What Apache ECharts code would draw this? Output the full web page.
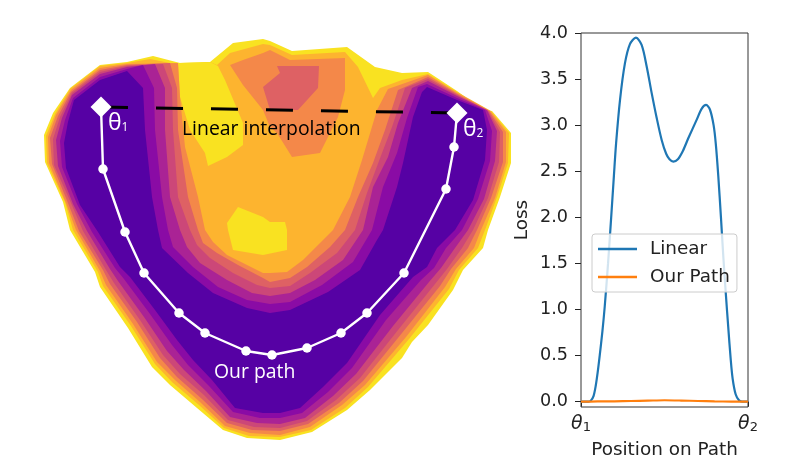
<!DOCTYPE html>
<html><head><meta charset="utf-8">
<style>html,body{margin:0;padding:0;background:#fff}#c{width:797px;height:476px}</style>
<script src="https://cdn.jsdelivr.net/npm/echarts@6/dist/echarts.min.js"></script>
</head><body><div id="c"></div>
<script>
// ---- loss-surface contour bands, in plane coordinates ----
const bandOutline=[[127,62],[100,65],[70,88],[53,113],[44,135],[45,162],[63,202],[70,230],[95,272],[100,287],[128,328],[152,367],[170,385],[197,408],[223,430],[247,438],[280,440],[312,432],[347,410],[370,390],[402,358],[412,342],[428,325],[453,290],[463,270],[483,248],[488,230],[500,197],[511,163],[511,133],[492,111],[483,110],[457,91],[428,72],[402,73],[375,67],[347,47],[292,51],[270,41],[263,39],[233,43],[210,62],[180,63],[153,56]];
const bandLightOrange=[[127,63],[100,66],[70,89],[55,114],[46,136],[47,163],[65,202],[73,230],[98,272],[103,286],[131,326],[155,364],[172,382],[199,405],[224,428],[249,436],[280,437],[311,430],[345,408],[368,387],[409,339],[449,289],[459,270],[478,248],[485,230],[497,197],[508,163],[509,133],[491,111],[457,92],[428,74],[402,80],[380,88],[373,98],[358,67],[345,52],[292,55],[270,45],[263,44],[230,53],[217,65],[210,62],[180,65],[150,59]];
const patchYellowUpper=[[178,63],[210,62],[218,66],[225,80],[243,123],[243,145],[227,157],[208,166],[205,153],[190,130],[180,97]];
const patchYellowLower=[[238,207],[227,223],[228,230],[233,250],[263,255],[287,250],[287,230],[285,222],[270,222],[263,217]];
const moundOrange=[[230,65],[243,60],[263,53],[270,50],[290,60],[345,58],[345,90],[338,117],[320,153],[292,157],[277,133],[270,127],[263,110],[243,85]];
const moundRed=[[263,87],[280,73],[277,66],[319,66],[318,88],[298,110],[270,110]];
const bandOrange=[[127,64],[100,68],[71,90],[56,115],[48,137],[49,163],[66,203],[76,230],[100,271],[106,285],[133,324],[157,362],[175,380],[200,402],[225,426],[250,433],[280,435],[310,427],[342,405],[365,385],[406,337],[445,287],[456,269],[474,248],[481,230],[495,198],[506,162],[506,132],[490,111],[457,93],[428,75],[388,89],[377,110],[362,160],[350,197],[333,230],[320,243],[303,260],[287,272],[270,273],[263,273],[243,263],[227,255],[213,242],[205,230],[198,197],[185,147],[180,97],[178,63]];
const bandCoral=[[127,65],[100,70],[71,92],[58,116],[50,138],[52,164],[68,203],[79,231],[103,270],[110,284],[137,322],[160,358],[177,377],[202,399],[227,423],[252,430],[280,431],[308,424],[339,403],[363,381],[402,333],[440,286],[451,269],[468,248],[477,230],[491,198],[503,162],[503,132],[489,111],[457,94],[428,77],[398,90],[385,130],[373,163],[358,197],[345,230],[330,247],[307,267],[290,278],[270,282],[263,278],[238,265],[217,253],[203,243],[198,230],[188,197],[178,130],[177,88],[170,63]];
const bandRose=[[127,66],[100,72],[72,93],[60,117],[53,139],[54,165],[71,203],[83,231],[106,270],[114,283],[140,320],[163,355],[180,374],[204,395],[228,420],[254,427],[280,428],[307,421],[336,400],[360,378],[398,330],[435,284],[447,269],[462,248],[473,230],[488,198],[499,162],[500,132],[488,111],[457,95],[428,79],[405,88],[392,127],[382,153],[367,193],[355,230],[337,253],[310,273],[290,286],[270,288],[257,285],[233,273],[210,258],[197,245],[190,230],[178,197],[173,130],[172,88],[163,64]];
const bandMagenta=[[127,67],[100,74],[72,95],[62,118],[56,140],[58,166],[73,204],[87,231],[110,269],[118,281],[144,317],[167,351],[184,370],[206,391],[230,417],[257,423],[280,424],[305,418],[333,396],[356,374],[393,326],[429,282],[441,268],[455,248],[468,230],[484,199],[495,161],[497,131],[487,110],[457,96],[428,81],[412,88],[398,123],[388,157],[373,187],[363,230],[343,260],[315,280],[290,293],[270,296],[252,293],[227,280],[200,263],[187,247],[180,230],[170,197],[165,130],[165,88],[155,64]];
const bandPurple=[[127,69],[100,77],[73,98],[65,120],[60,141],[62,167],[77,204],[92,232],[115,268],[124,279],[150,314],[172,345],[188,365],[209,386],[233,412],[260,418],[280,418],[302,413],[328,392],[352,368],[386,320],[421,280],[434,268],[446,248],[462,230],[478,199],[490,161],[492,131],[485,110],[457,98],[427,84],[418,87],[407,118],[397,153],[383,187],[372,230],[353,262],[322,285],[290,302],[270,304],[247,300],[218,287],[193,267],[173,247],[168,230],[162,197],[155,130],[154,88],[143,65]];
const bandDark=[[127,71],[100,80],[74,100],[68,122],[64,143],[66,168],[80,205],[98,232],[120,267],[130,277],[155,310],[177,340],[193,360],[212,380],[235,408],[263,413],[280,413],[300,408],[323,387],[347,363],[380,315],[413,277],[427,267],[437,248],[455,230],[473,200],[485,160],[487,130],[483,110],[457,100],[427,87],[422,92],[413,117],[403,163],[397,187],[383,230],[377,240],[360,270],[328,292],[290,310],[270,313],[247,308],[213,293],[188,273],[162,248],[158,230],[152,197],[145,130],[143,88]];
// ---- paths drawn across the surface ----
const ourPath=[[103,169],[125,232],[144,273],[179,313],[205,333],[246,351],[272,355],[307,348],[341,333],[367,313],[404,273],[446,189],[454,147]];
const endpoints=[[101,107],[457,113]];
// ---- right panel ----
const linearLoss=[[0,0],[0.045,0],[0.06,0.014],[0.075,0.06],[0.088,0.17],[0.1,0.32],[0.112,0.5],[0.128,0.76],[0.142,1.03],[0.162,1.5],[0.18,1.98],[0.197,2.45],[0.21,2.8],[0.234,3.28],[0.263,3.67],[0.293,3.88],[0.329,3.95],[0.363,3.87],[0.393,3.64],[0.423,3.35],[0.453,3.08],[0.483,2.84],[0.51,2.69],[0.53,2.63],[0.553,2.605],[0.58,2.63],[0.61,2.72],[0.643,2.86],[0.693,3.06],[0.723,3.18],[0.749,3.22],[0.772,3.17],[0.794,3.0],[0.807,2.8],[0.822,2.45],[0.838,2.0],[0.853,1.55],[0.868,1.15],[0.882,0.8],[0.896,0.47],[0.908,0.25],[0.926,0.08],[0.946,0.015],[0.965,0],[1,0]];
const ourPathLoss=[[0,0],[0.1,0.002],[0.2,0.004],[0.3,0.007],[0.4,0.011],[0.5,0.015],[0.6,0.012],[0.7,0.007],[0.8,0.003],[0.9,0.001],[1,0]];
const yTicks=[0,0.5,1,1.5,2,2.5,3,3.5,4];
const xTicks=[0,1];

const layers=[
 [bandOutline,'#F9E221'],[bandLightOrange,'#FDB42F'],[patchYellowUpper,'#F9E221'],[patchYellowLower,'#F9E221'],
 [moundOrange,'#F48849'],[moundRed,'#DE6164'],[bandOrange,'#F48849'],[bandCoral,'#DE6164'],[bandRose,'#CC4778'],
 [bandMagenta,'#AA2395'],[bandPurple,'#8A0BA5'],[bandDark,'#5601A4']];
const F='DejaVu Sans';
const chart=echarts.init(document.getElementById('c'),null,{renderer:'canvas'});
chart.setOption({
 animation:false,backgroundColor:'#fff',
 grid:[{left:0,top:0,width:530,height:476,show:false},
       {left:581,top:33,width:167,height:374,show:true,borderColor:'#333',borderWidth:1,z:1}],
 xAxis:[{gridIndex:0,type:'value',min:0,max:530,show:false},
  {gridIndex:1,type:'value',min:0,max:1,splitLine:{show:false},
   name:'Position on Path',nameLocation:'middle',nameGap:34,nameTextStyle:{fontFamily:F,fontSize:18.4,color:'#222'},
   axisLine:{show:false},axisTick:{show:true,customValues:xTicks,length:5,lineStyle:{color:'#222'}},
   axisLabel:{customValues:xTicks,margin:8,formatter:v=>v===0?'{t|θ}{s|1}':'{t|θ}{s|2}',
    rich:{t:{fontFamily:F,fontStyle:'italic',fontSize:19,color:'#222'},s:{fontFamily:F,fontSize:13,color:'#222',verticalAlign:'bottom',padding:[6,0,0,0]}}}}],
 yAxis:[{gridIndex:0,type:'value',min:0,max:476,inverse:true,show:false},
  {gridIndex:1,type:'value',min:-0.058,max:4,splitLine:{show:false},
   name:'Loss',nameLocation:'middle',nameGap:50,nameRotate:90,nameTextStyle:{fontFamily:F,fontSize:18.4,color:'#222'},
   axisLine:{show:false},axisTick:{show:true,customValues:yTicks,length:6,lineStyle:{color:'#222'}},
   axisLabel:{customValues:yTicks,margin:13,fontFamily:F,fontSize:17.6,color:'#222',formatter:v=>v.toFixed(1)}}],
 legend:{data:['Linear','Our Path'],left:592,top:234,orient:'vertical',icon:'rect',itemWidth:39,itemHeight:2.4,itemGap:10,padding:[6,7,6,6],
  backgroundColor:'rgba(255,255,255,0.8)',borderColor:'#ccc',borderWidth:1,borderRadius:3,
  textStyle:{fontFamily:F,fontSize:18.4,color:'#222',padding:[0,0,0,8]}},
 series:[
  {type:'custom',name:'surface',xAxisIndex:0,yAxisIndex:0,silent:true,z:1,clip:false,
   data:layers.map((l,i)=>[i]),encode:{x:0,y:0},
   renderItem:(p,api)=>{const l=layers[api.value(0)];
     return {type:'polygon',shape:{points:l[0].map(q=>api.coord(q))},style:{fill:l[1]}};}},
  {type:'line',name:'interpolation',xAxisIndex:0,yAxisIndex:0,data:endpoints,symbol:'none',z:3,silent:true,
   lineStyle:{color:'#000',width:3,type:[27,28]}},
  {type:'line',name:'path',xAxisIndex:0,yAxisIndex:0,data:[endpoints[0],...ourPath,endpoints[1]],z:4,silent:true,
   symbol:'none',lineStyle:{color:'#fff',width:2.4}},
  {type:'scatter',name:'knots',xAxisIndex:0,yAxisIndex:0,data:ourPath,symbol:'circle',symbolSize:9.5,itemStyle:{color:'#fff',opacity:1},z:5,silent:true},
  {type:'scatter',name:'ends',xAxisIndex:0,yAxisIndex:0,data:endpoints,symbol:'diamond',symbolSize:21,itemStyle:{color:'#fff',opacity:1},z:5,silent:true},
  {type:'line',name:'Linear',xAxisIndex:1,yAxisIndex:1,data:linearLoss,smooth:0.3,symbol:'none',lineStyle:{color:'#1F77B4',width:2.2},itemStyle:{color:'#1F77B4'},z:3},
  {type:'line',name:'Our Path',xAxisIndex:1,yAxisIndex:1,data:ourPathLoss,smooth:0.3,symbol:'none',lineStyle:{color:'#FF7F0E',width:2.2},itemStyle:{color:'#FF7F0E'},z:3}
 ],
 graphic:[
  {type:'text',x:182,y:120,z:10,style:{text:'Linear interpolation',fontFamily:'Open Sans',fontSize:19.4,fill:'#000'}},
  {type:'text',x:214,y:363,z:10,style:{text:'Our path',fontFamily:'Open Sans',fontSize:19.4,fill:'#fff'}},
  {type:'text',x:108,y:112,z:10,style:{text:'θ{a|1}',fontFamily:'Open Sans',fontSize:23,fill:'#fff',rich:{a:{fontFamily:'Open Sans',fontSize:12,fill:'#fff',padding:[9,0,0,0]}}}},
  {type:'text',x:463,y:118,z:10,style:{text:'θ{a|2}',fontFamily:'Open Sans',fontSize:23,fill:'#fff',rich:{a:{fontFamily:'Open Sans',fontSize:12,fill:'#fff',padding:[9,0,0,0]}}}}
 ]
});
</script></body></html>
